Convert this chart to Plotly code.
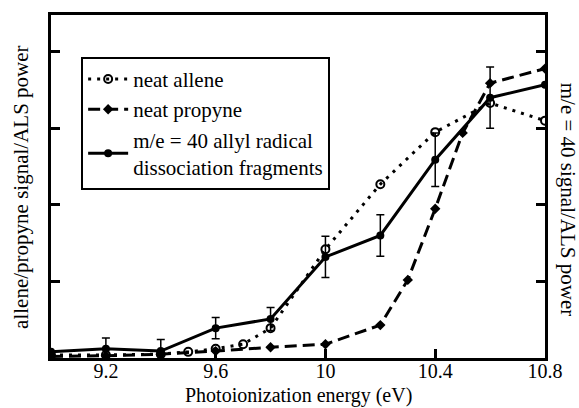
import plotly.graph_objects as go

energy = [9.0, 9.2, 9.4, 9.5, 9.6, 9.7, 9.8, 10.0, 10.2, 10.4, 10.6, 10.8]
allene = [0.04, 0.04, 0.05, 0.08, 0.12, 0.18, 0.39, 1.42, 2.27, 2.95, 3.33, 3.10]

propyne_energy = [9.0, 9.2, 9.4, 9.6, 9.8, 10.0, 10.2, 10.3, 10.4, 10.5, 10.6, 10.8]
propyne = [0.02, 0.03, 0.05, 0.09, 0.14, 0.18, 0.43, 1.02, 1.95, 2.94, 3.59, 3.78]

mass_energy = [9.0, 9.2, 9.4, 9.6, 9.8, 10.0, 10.2, 10.4, 10.6, 10.8]
mass40 = [0.08, 0.12, 0.09, 0.39, 0.51, 1.32, 1.60, 2.59, 3.40, 3.57]
mass40_err = [0.0, 0.14, 0.15, 0.14, 0.15, 0.27, 0.27, 0.35, 0.40, 0.0]

x_ticks = [9.2, 9.6, 10.0, 10.4, 10.8]
x_tick_labels = ["9.2", "9.6", "10", "10.4", "10.8"]
y_ticks = [1, 2, 3, 4]

FAM = "Liberation Serif"

def f(size):
    return dict(family=FAM, size=size)

fig = go.Figure()
fig.add_trace(go.Scatter(
    x=energy, y=allene, mode="lines+markers", name="neat allene",
    line=dict(color="black", width=3, dash="3px,6px"),
    marker=dict(symbol="circle-open", size=8, color="black", line=dict(width=2)),
))
fig.add_trace(go.Scatter(
    x=propyne_energy, y=propyne, mode="lines+markers", name="neat propyne",
    line=dict(color="black", width=3, dash="12px,6px"),
    marker=dict(symbol="diamond", size=8, color="black"),
))
fig.add_trace(go.Scatter(
    x=mass_energy, y=mass40, mode="lines+markers",
    name="m/e = 40 allyl radical<br>dissociation fragments",
    line=dict(color="black", width=3),
    marker=dict(symbol="circle", size=8, color="black"),
    error_y=dict(type="data", array=mass40_err, color="black", thickness=1.5, width=4),
))

axis_common = dict(
    showline=True, linecolor="black", linewidth=3, mirror=True,
    ticks="inside", tickcolor="black", tickwidth=3, ticklen=9,
    showgrid=False, zeroline=False,
)

fig.update_layout(
    width=579, height=408,
    margin=dict(l=51, r=34, t=15, b=50),
    paper_bgcolor="white", plot_bgcolor="white",
    font=dict(size=20, color="black"),
    xaxis=dict(range=[9.0, 10.8], tickvals=x_ticks, ticktext=x_tick_labels,
               tickfont=f(20), ticklabelstandoff=-7, **axis_common),
    yaxis=dict(range=[0, 4.48], tickvals=y_ticks, showticklabels=False,
               **axis_common),
    yaxis2=dict(range=[0, 4.48], tickvals=y_ticks, showticklabels=False,
                overlaying="y", side="right", ticks="inside", tickcolor="black",
                tickwidth=3, ticklen=9, showgrid=False, zeroline=False,
                showline=False),
    showlegend=True,
    legend=dict(x=0.061, y=0.878, xanchor="left", yanchor="top",
                bgcolor="white", bordercolor="black", borderwidth=2,
                font=f(21), tracegroupgap=0, itemwidth=40),
    annotations=[
        dict(text="Photoionization energy (eV)", xref="paper", yref="paper",
             x=0.5, y=-0.108, showarrow=False, font=f(20),
             xanchor="center", yanchor="middle"),
        dict(text="allene/propyne signal/ALS power", xref="paper", yref="paper",
             x=-0.061, y=0.4985, textangle=-90, showarrow=False,
             font=f(21), xanchor="center", yanchor="middle"),
        dict(text="m/e = 40 signal/ALS power", xref="paper", yref="paper",
             x=1.047, y=0.4636, textangle=90, showarrow=False,
             font=f(21), xanchor="center", yanchor="middle"),
    ],
)
# invisible trace to activate the right axis ticks
fig.add_trace(go.Scatter(x=[9.0], y=[0], yaxis="y2", showlegend=False,
                         mode="markers", marker=dict(opacity=0), hoverinfo="skip"))

fig.write_html("out.html", config={"displayModeBar": False},
               post_script="document.body.style.margin='0';")
